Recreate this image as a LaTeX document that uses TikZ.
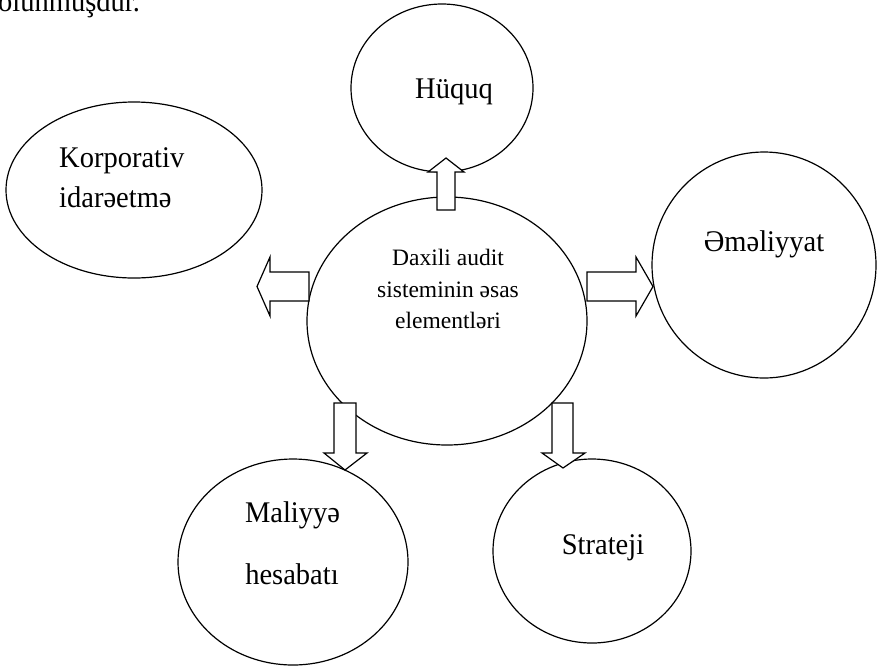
\documentclass[tikz,border=0pt]{standalone}
\usepackage{fontspec}
\setmainfont{Liberation Serif}
\newfontfamily\lblfont{Liberation Serif}[FakeStretch=0.95]
\usetikzlibrary{shapes.geometric}
\begin{document}
\begin{tikzpicture}[x=1pt,y=-1pt,
  bubble/.style={draw,ellipse,line width=1.2pt,inner sep=0pt},
  lbl/.style={font=\lblfont\fontsize{30}{34}\selectfont,anchor=base,inner sep=0pt},
  lblw/.style={lbl,anchor=base west},
  ctr/.style={font=\fontsize{23.5}{28}\selectfont,anchor=base,inner sep=0pt},
  blockarrow/.style={draw,fill=white,line width=1.2pt,line join=miter}]
\useasboundingbox (0,0) rectangle (877,667);
\clip (0,0) rectangle (877,667);

% ellipses
\node[bubble,minimum width=182pt,minimum height=168pt] (huquq) at (442,88) {};
\node[bubble,minimum width=256pt,minimum height=176pt] (korp) at (134,190) {};
\node[bubble,minimum width=280pt,minimum height=248pt] (daxili) at (447,321) {};
\node[bubble,minimum width=224pt,minimum height=226pt] (emel) at (764,265) {};
\node[bubble,minimum width=230pt,minimum height=206pt] (maliyye) at (293,562) {};
\node[bubble,minimum width=198pt,minimum height=184pt] (strat) at (592,551) {};

% block arrows
\draw[blockarrow] (437,210) -- (437,172) -- (428,172) -- (446,158) -- (464,172) -- (455,172) -- (455,210) -- cycle;
\draw[blockarrow] (309,272) -- (270,272) -- (270,257) -- (257,286.5) -- (270,316) -- (270,301) -- (309,301) -- cycle;
\draw[blockarrow] (587,272) -- (636,272) -- (636,257) -- (653,286.5) -- (636,316) -- (636,301) -- (587,301) -- cycle;
\draw[blockarrow] (334,403) -- (356,403) -- (356,453) -- (367,453) -- (345,470) -- (324,453) -- (334,453) -- cycle;
\draw[blockarrow] (552,403) -- (573,403) -- (573,453) -- (585,453) -- (563,468) -- (542,453) -- (552,453) -- cycle;

% texts
\node[lblw] (top) at (-2,11) {olunmuşdur.};
\node[lbl] (thuquq) at (454,98) {Hüquq};
\node[lblw] (tkorp1) at (59,167) {Korporativ};
\node[lblw] (tkorp2) at (59,207) {idarəetmə};
\node[lbl] (temel) at (764,251) {Əməliyyat};
\node[ctr] (td1) at (448,265) {Daxili audit};
\node[ctr] (td2) at (448,297) {sisteminin əsas};
\node[ctr] (td3) at (448,328) {elementləri};
\node[lbl] (tmal1) at (292.5,522) {Maliyyə};
\node[lbl] (tmal2) at (292,584) {hesabatı};
\node[lbl] (tstrat) at (603,554) {Strateji};
\end{tikzpicture}
\end{document}
